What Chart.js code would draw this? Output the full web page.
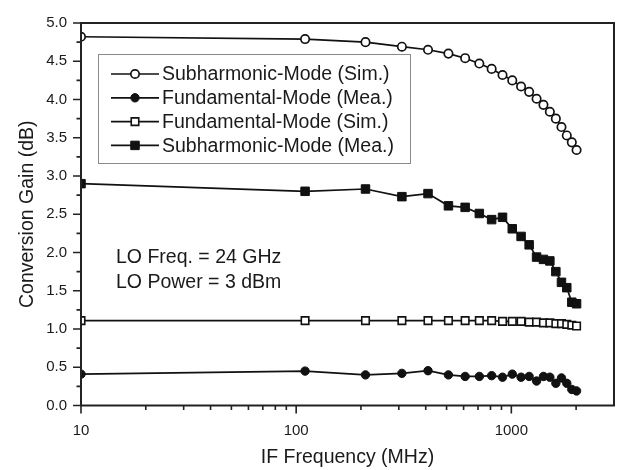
<!DOCTYPE html>
<html><head><meta charset="utf-8">
<script src="https://cdn.jsdelivr.net/npm/chart.js@4.4.1/dist/chart.umd.min.js"></script>
<style>html,body{margin:0;padding:0;background:#fff}#wrap{width:621px;height:470px}</style>
</head><body><div id="wrap"><canvas id="c" width="621" height="470"></canvas></div>
<script>
const freqMHz = [10,110,210,310,410,510,610,710,810,910,1010,1110,1210,1310,1410,1510,1610,1710,1810,1910,2010];
const subSim  = [4.82,4.79,4.75,4.69,4.65,4.60,4.54,4.47,4.40,4.32,4.25,4.17,4.10,4.01,3.93,3.84,3.75,3.64,3.53,3.44,3.34];
const fundMea = [0.41,0.45,0.40,0.42,0.455,0.40,0.38,0.38,0.39,0.37,0.41,0.37,0.38,0.32,0.38,0.37,0.29,0.36,0.29,0.21,0.19];
const fundSim = [1.11,1.11,1.11,1.11,1.11,1.11,1.11,1.11,1.11,1.10,1.10,1.10,1.09,1.09,1.08,1.08,1.07,1.07,1.06,1.05,1.04];
const subMea  = [2.90,2.80,2.83,2.73,2.77,2.61,2.59,2.51,2.43,2.46,2.31,2.21,2.10,1.94,1.91,1.89,1.75,1.61,1.54,1.35,1.33];
const seriesNames = ['Subharmonic-Mode (Sim.)','Fundamental-Mode (Mea.)','Fundamental-Mode (Sim.)','Subharmonic-Mode (Mea.)'];
const xMajorTicks = [10,100,1000];
const xMinorTicks = [20,30,40,50,60,70,80,90,200,300,400,500,600,700,800,900,2000];
const yMajorTicks = [0,0.5,1,1.5,2,2.5,3,3.5,4,4.5,5];
const yMinorTicks = [0.25,0.75,1.25,1.75,2.25,2.75,3.25,3.75,4.25,4.75];
const noteLines = ['LO Freq. = 24 GHz','LO Power = 3 dBm'];
const xTitle = 'IF Frequency (MHz)';
const yTitle = 'Conversion Gain (dB)';

const FONT = "'Liberation Sans', Arial, Helvetica, sans-serif";
Chart.defaults.font.family = FONT;
Chart.defaults.color = '#1a1a1a';
const INK = '#111111';
const TXT = '#1a1a1a';
const mk = ys => freqMHz.map((f,i)=>({x:f,y:ys[i]}));

function drawMarker(ctx, style, x, y, r, fill, stroke, bw){
  ctx.beginPath();
  if(style==='rect'){ const s=Math.SQRT1_2*r; ctx.rect(x-s,y-s,2*s,2*s); }
  else { ctx.arc(x,y,r,0,Math.PI*2); }
  ctx.fillStyle=fill; ctx.fill();
  ctx.lineWidth=bw; ctx.strokeStyle=stroke; ctx.stroke();
}

const decor = {
  id:'decor',
  afterDatasetsDraw(chart){
    const {ctx, chartArea:a, scales:{x,y}} = chart;
    ctx.save();
    ctx.strokeStyle='#222'; ctx.lineWidth=2;
    ctx.strokeRect(a.left,a.top,a.right-a.left,a.bottom-a.top);
    ctx.lineWidth=1.6; ctx.beginPath();
    xMajorTicks.forEach(v=>{const p=x.getPixelForValue(v);ctx.moveTo(p,a.bottom);ctx.lineTo(p,a.bottom+8);});
    xMinorTicks.forEach(v=>{const p=x.getPixelForValue(v);ctx.moveTo(p,a.bottom);ctx.lineTo(p,a.bottom+4.5);});
    yMajorTicks.forEach(v=>{const p=y.getPixelForValue(v);ctx.moveTo(a.left,p);ctx.lineTo(a.left-8,p);});
    yMinorTicks.forEach(v=>{const p=y.getPixelForValue(v);ctx.moveTo(a.left,p);ctx.lineTo(a.left-4.5,p);});
    ctx.stroke();
    // legend
    const L={x:98,y:54,w:312,h:109};
    ctx.fillStyle='#fff'; ctx.fillRect(L.x,L.y,L.w,L.h);
    ctx.strokeStyle='#8a8a8a'; ctx.lineWidth=1; ctx.strokeRect(L.x+0.5,L.y+0.5,L.w,L.h);
    ctx.font='19.5px '+FONT; ctx.textBaseline='middle'; ctx.textAlign='left';
    chart.data.datasets.forEach((ds,i)=>{
      const cy=74+i*23.8;
      ctx.strokeStyle=ds.borderColor; ctx.lineWidth=ds.borderWidth;
      ctx.beginPath(); ctx.moveTo(111,cy); ctx.lineTo(159,cy); ctx.stroke();
      drawMarker(ctx, ds.pointStyle, 135, cy, ds.pointRadius, ds.pointBackgroundColor, ds.pointBorderColor, ds.pointBorderWidth);
      ctx.fillStyle=TXT; ctx.fillText(ds.label,162,cy+1);
    });
    noteLines.forEach((t,i)=>{ ctx.fillStyle=TXT; ctx.fillText(t,116,258+i*24.5); });
    ctx.restore();
  }
};

const base = {showLine:true, clip:0, borderColor:INK, borderWidth:1.7, pointBorderColor:INK};
new Chart(document.getElementById('c'),{
  type:'scatter',
  data:{datasets:[
    Object.assign({label:seriesNames[0],data:mk(subSim),pointStyle:'circle',pointRadius:4.2,pointBackgroundColor:'#fff',pointBorderWidth:1.7},base),
    Object.assign({label:seriesNames[1],data:mk(fundMea),pointStyle:'circle',pointRadius:4.2,pointBackgroundColor:INK,pointBorderWidth:1},base),
    Object.assign({label:seriesNames[2],data:mk(fundSim),pointStyle:'rect',pointRadius:5.3,pointBackgroundColor:'#fff',pointBorderWidth:1.6},base),
    Object.assign({label:seriesNames[3],data:mk(subMea),pointStyle:'rect',pointRadius:6,pointBackgroundColor:INK,pointBorderWidth:1},base)
  ]},
  options:{
    responsive:false, animation:false, devicePixelRatio:1,
    layout:{padding:{top:14,right:5,left:0,bottom:0}},
    plugins:{legend:{display:false},tooltip:{enabled:false}},
    scales:{
      x:{type:'logarithmic',min:10,max:3000,
        grid:{display:false,drawTicks:false},border:{display:false},
        afterBuildTicks:s=>{s.ticks=xMajorTicks.map(v=>({value:v}));},
        afterFit:s=>{s.height=64.5;},
        ticks:{autoSkip:false,maxRotation:0,padding:16,font:{size:15},color:TXT,callback:v=>String(v)},
        title:{display:true,text:xTitle,font:{size:19.5},color:TXT,padding:{top:0,bottom:1}}},
      y:{type:'linear',min:0,max:5,
        grid:{display:false,drawTicks:false},border:{display:false},
        afterBuildTicks:s=>{s.ticks=yMajorTicks.map(v=>({value:v}));},
        afterFit:s=>{s.width=81;},
        ticks:{padding:14,font:{size:15},color:TXT,callback:v=>Number(v).toFixed(1)},
        title:{display:true,text:yTitle,font:{size:19.5},color:TXT,padding:{top:16,bottom:0}}}
    }
  },
  plugins:[decor]
});
</script></body></html>
